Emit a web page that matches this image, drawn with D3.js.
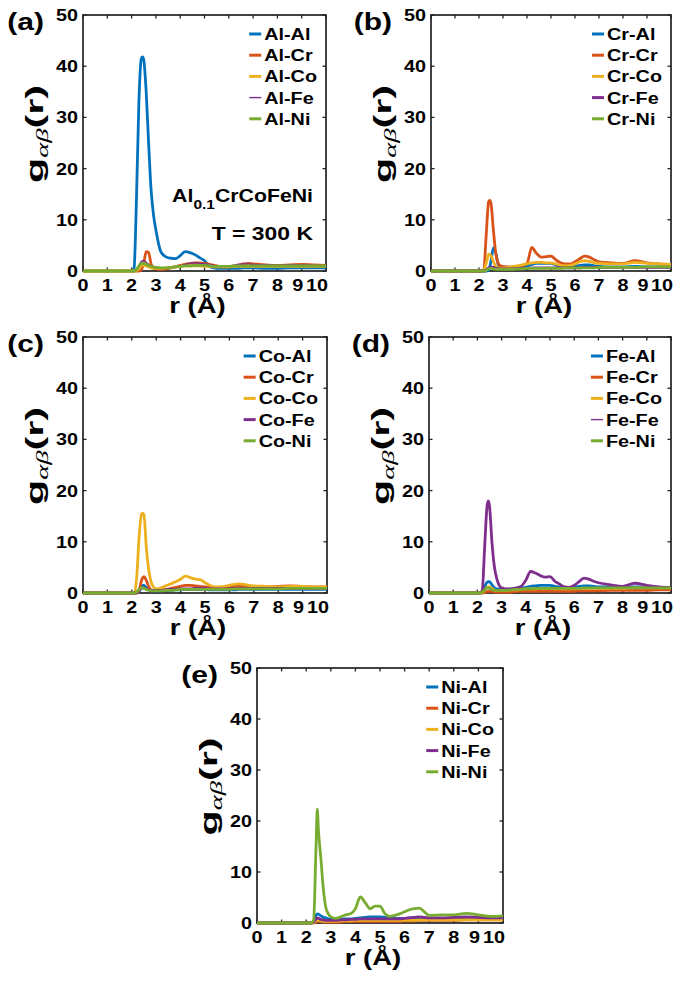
<!DOCTYPE html>
<html><head><meta charset="utf-8">
<script src="https://cdn.jsdelivr.net/npm/d3@7"></script>
<style>
body{margin:0;background:#fff}
text{font-family:"Liberation Sans",Arial,Helvetica,sans-serif;font-weight:bold;fill:#000}
</style>
</head><body>
<svg id="chart" width="685" height="984"></svg>
<script>
// ---------- data ----------
const r = [0,1,2.0,2.1,2.2,2.3,2.4,2.45,2.5,2.6,2.7,2.8,2.9,3.0,3.2,3.4,3.6,3.8,4.0,4.2,4.4,4.6,4.8,5.0,5.2,5.4,5.6,5.8,6.0,6.2,6.4,6.6,6.8,7.0,7.5,8.0,8.5,9.0,9.5,10];
const xTicks = [0,1,2,3,4,5,6,7,8,9,10];
const yTicks = [0,10,20,30,40,50];
const elements = ["Al","Cr","Co","Fe","Ni"];
const colors = ["#0072BD","#D95319","#EDB120","#7E2F8E","#77AC30"];

// panel (a) Al-X
const AlAl = [0,0,0, 0.5,14,33,41.5,41.8,41.2,35,25,16,11, 8,3.8,2.8,2.5,2.4, 3.0,3.8,3.6,3.2,2.6, 2.0,0.9,0.6,0.5,0.5, 0.5,0.5,0.5,0.6,0.6, 0.6,0.5,0.5,0.6,0.6,0.6,0.6];
const AlCr = [0,0,0, 0,0,0,0.2,0.8,1.5,3.8,3.6,1.4,0.6, 0.4,0.3,0.4,0.6,0.8, 1.1,1.3,1.5,1.6,1.6, 1.5,1.3,1.1,0.9,0.8, 0.8,1.0,1.2,1.4,1.5, 1.4,1.2,1.1,1.2,1.3,1.2,1.1];
const AlCo = [0,0,0, 0,0.1,0.5,1.0,1.1,1.2,1.0,0.8,0.6,0.5, 0.5,0.5,0.6,0.7,0.8, 0.9,1.0,1.0,1.0,1.0, 0.9,0.9,0.8,0.8,0.8, 0.8,0.9,0.9,0.9,0.9, 0.9,0.9,0.9,0.9,0.9,0.9,0.9];
const AlFe = [0,0,0, 0,0.2,1.0,1.9,2.0,2.0,1.7,1.3,1.0,0.8, 0.7,0.6,0.6,0.7,0.8, 1.0,1.3,1.5,1.6,1.5, 1.4,1.3,1.1,1.0,1.0, 1.0,1.1,1.3,1.4,1.4, 1.3,1.2,1.1,1.2,1.2,1.1,1.0];
const AlNi = [0,0,0, 0,0.3,1.0,1.5,1.5,1.5,1.3,1.1,0.9,0.8, 0.7,0.6,0.6,0.7,0.8, 0.9,1.0,1.0,1.1,1.1, 1.1,1.0,0.9,0.9,0.9, 0.9,1.0,1.0,1.0,1.0, 1.0,1.0,1.0,1.0,1.0,1.0,1.0];
// panel (b) Cr-X
const CrAl = [0,0,0, 0,0,0,0.1,0.8,2.0,4.5,3.5,1.3,0.6, 0.5,0.5,0.6,0.7,0.8, 1.0,1.3,1.5,1.5,1.5, 1.5,1.2,0.9,0.8,0.8, 0.9,1.1,1.2,1.2,1.0, 0.9,0.8,0.8,0.9,0.8,0.8,0.8];
const CrCr = [0,0,0, 0,0.3,7,13.5,13.8,13.2,8,3.4,1.5,1.0, 0.9,0.8,0.8,0.9,1.1, 1.5,4.6,3.4,2.7,2.8, 2.9,2.2,1.6,1.4,1.4, 1.8,2.4,2.9,2.7,2.2, 1.8,1.6,1.5,2.0,1.6,1.4,1.3];
const CrCo = [0,0,0, 0,0.2,1.5,3.2,3.3,3.0,1.8,0.9,0.6,0.5, 0.6,0.7,0.9,1.0,1.2, 1.4,1.6,1.7,1.7,1.6, 1.6,1.4,1.1,1.0,1.1, 1.4,1.8,2.0,1.9,1.6, 1.5,1.4,1.4,1.7,1.5,1.4,1.3];
const CrFe = [0,0,0, 0,0,0.2,0.6,0.7,0.8,0.7,0.5,0.4,0.4, 0.4,0.4,0.4,0.5,0.5, 0.5,0.6,0.6,0.6,0.6, 0.6,0.6,0.6,0.6,0.6, 0.6,0.6,0.7,0.7,0.7, 0.7,0.7,0.7,0.7,0.7,0.7,0.7];
const CrNi = [0,0,0, 0,0,0.1,0.4,0.5,0.5,0.4,0.3,0.3,0.3, 0.3,0.3,0.3,0.4,0.4, 0.5,0.5,0.5,0.5,0.5, 0.5,0.5,0.5,0.6,0.6, 0.6,0.6,0.6,0.6,0.6, 0.7,0.7,0.7,0.7,0.8,0.8,0.8];
// panel (c) Co-X
const CoAl = [0,0,0, 0,0,0.3,1.3,1.5,1.5,1.0,0.6,0.4,0.4, 0.4,0.4,0.5,0.5,0.6, 0.6,0.7,0.7,0.7,0.7, 0.7,0.6,0.6,0.6,0.6, 0.6,0.6,0.7,0.7,0.7, 0.7,0.7,0.7,0.7,0.7,0.7,0.7];
const CoCr = [0,0,0, 0,0,0.5,2.5,3.0,3.2,2.4,1.2,0.6,0.5, 0.5,0.6,0.7,0.9,1.1, 1.3,1.5,1.5,1.4,1.3, 1.2,1.1,1.0,1.0,1.0, 1.1,1.3,1.3,1.3,1.2, 1.2,1.2,1.3,1.4,1.3,1.2,1.2];
const CoCo = [0,0,0, 0,3,11,15.4,15.6,15.2,8.5,4.3,2.0,1.1, 0.8,1.0,1.4,1.8,2.2, 2.7,3.3,3.0,2.7,2.6, 2.0,1.5,1.2,1.2,1.3, 1.5,1.7,1.8,1.7,1.5, 1.4,1.3,1.2,1.3,1.3,1.2,1.2];
const CoFe = [0,0,0, 0,0.1,0.5,0.9,1.0,1.0,0.8,0.6,0.5,0.5, 0.5,0.5,0.6,0.7,0.7, 0.8,0.8,0.8,0.9,0.9, 0.9,0.8,0.8,0.8,0.8, 0.8,0.9,0.9,0.9,0.9, 0.9,0.9,0.9,0.9,0.9,0.9,0.9];
const CoNi = [0,0,0, 0,0.2,0.7,1.0,1.0,0.9,0.7,0.5,0.4,0.4, 0.4,0.4,0.5,0.5,0.6, 0.7,0.7,0.7,0.7,0.7, 0.7,0.7,0.7,0.7,0.7, 0.7,0.8,0.8,0.8,0.8, 0.8,0.8,0.8,0.9,0.9,0.9,0.9];
// panel (d) Fe-X
const FeAl = [0,0,0, 0,0.2,1.2,2.1,2.2,2.2,1.6,1.0,0.8,0.7, 0.7,0.7,0.8,0.9,1.0, 1.1,1.3,1.4,1.5,1.5, 1.5,1.3,1.1,1.0,1.0, 1.1,1.3,1.4,1.4,1.3, 1.2,1.2,1.2,1.2,1.2,1.1,1.1];
const FeCr = [0,0,0, 0,0,0.1,0.3,0.3,0.3,0.3,0.2,0.2,0.2, 0.2,0.2,0.2,0.3,0.3, 0.3,0.3,0.3,0.3,0.3, 0.3,0.3,0.3,0.3,0.3, 0.3,0.4,0.4,0.4,0.4, 0.4,0.5,0.5,0.5,0.5,0.6,0.6];
const FeCo = [0,0,0, 0,0.1,0.6,1.1,1.2,1.2,0.9,0.6,0.5,0.5, 0.5,0.5,0.6,0.6,0.7, 0.8,0.8,0.8,0.9,0.9, 0.9,0.8,0.8,0.8,0.8, 0.8,0.9,0.9,0.9,0.9, 0.9,0.9,0.9,1.0,1.0,1.0,1.0];
const FeFe = [0,0,0, 0,0.5,9,17,18,17,10,5.2,2.8,1.5, 1.0,0.8,0.8,1.0,1.3, 2.5,4.2,3.9,3.4,3.1, 3.2,2.3,1.7,1.2,1.1, 1.5,2.2,2.9,2.7,2.3, 2.0,1.6,1.3,1.9,1.5,1.2,1.1];
const FeNi = [0,0,0, 0,0.2,0.6,1.0,1.0,0.9,0.7,0.5,0.5,0.5, 0.5,0.5,0.6,0.7,0.7, 0.8,0.8,0.9,0.9,0.9, 0.9,0.9,0.9,0.9,0.9, 0.9,0.9,1.0,1.0,1.0, 1.0,1.0,1.0,1.0,1.0,1.0,1.0];
// panel (e) Ni-X
const NiAl = [0,0,0, 0,0,0.3,1.5,1.8,1.7,1.4,1.1,1.0,0.8, 0.7,0.6,0.7,0.8,0.8, 0.9,1.0,1.1,1.2,1.2, 1.2,1.1,1.0,0.9,0.9, 0.9,1.0,1.0,1.0,1.0, 0.9,0.9,0.9,0.9,0.9,0.9,0.9];
const NiCr = [0,0,0, 0,0,0,0.2,0.3,0.3,0.3,0.2,0.2,0.2, 0.2,0.2,0.2,0.3,0.3, 0.3,0.3,0.3,0.3,0.3, 0.3,0.3,0.3,0.3,0.3, 0.4,0.4,0.4,0.5,0.5, 0.5,0.5,0.5,0.6,0.6,0.6,0.6];
const NiCo = [0,0,0, 0,0,0.1,0.4,0.5,0.5,0.4,0.3,0.3,0.3, 0.3,0.3,0.4,0.4,0.4, 0.5,0.5,0.5,0.5,0.5, 0.5,0.5,0.5,0.5,0.5, 0.5,0.5,0.5,0.6,0.6, 0.6,0.6,0.6,0.6,0.6,0.6,0.6];
const NiFe = [0,0,0, 0,0,0.2,0.8,1.0,0.9,0.7,0.6,0.5,0.5, 0.5,0.5,0.6,0.6,0.7, 0.7,0.8,0.8,0.8,0.8, 0.8,0.8,0.8,0.8,0.8, 0.9,1.0,1.1,1.2,1.1, 1.0,1.0,1.1,1.2,1.1,1.0,1.0];
const NiNi = [0,0,0, 0,0,0.5,15,22.3,18,12.5,6.5,3.0,1.8, 1.2,0.9,1.2,1.6,1.8, 2.8,5.1,4.0,2.8,3.3, 3.3,1.8,1.3,1.5,1.8, 2.2,2.6,2.8,2.9,2.2, 1.5,1.6,1.6,1.9,1.6,1.3,1.4];

const panelLetters = ["a","b","c","d","e"];
const panelCenters = ["Al","Cr","Co","Fe","Ni"];
const panelSeries = [
  [AlAl,AlCr,AlCo,AlFe,AlNi],
  [CrAl,CrCr,CrCo,CrFe,CrNi],
  [CoAl,CoCr,CoCo,CoFe,CoNi],
  [FeAl,FeCr,FeCo,FeFe,FeNi],
  [NiAl,NiCr,NiCo,NiFe,NiNi]
];

// ---------- layout ----------
const boxes = [
  {l:83, t:15, r:326, b:271},
  {l:431, t:15, r:671, b:271},
  {l:83, t:337, r:327, b:593},
  {l:429, t:337, r:671, b:593},
  {l:257, t:668, r:503, b:923}
];
const SX = 1.2;
const thinPlot = {"Al-Fe":1.4};
const thinLegend = {"Al-Fe":1.4, "Fe-Fe":1.4};

const svg = d3.select("#chart");

function txt(g, x, y, s, size, anchor, sx) {
  return g.append("text")
    .attr("transform", `translate(${x},${y}) scale(${sx||SX},1)`)
    .attr("text-anchor", anchor || "start")
    .style("font-size", size + "px")
    .text(s);
}

panelSeries.forEach((series, pi) => {
  const B = boxes[pi];
  const x = d3.scaleLinear().domain([0,10]).range([B.l, B.r]);
  const y = d3.scaleLinear().domain([0,50]).range([B.b, B.t]);
  const g = svg.append("g");

  // ticks (inward, mirrored)
  const tl = 3.5;
  xTicks.forEach(v => {
    g.append("line").attr("x1", x(v)).attr("x2", x(v)).attr("y1", B.b).attr("y2", B.b - tl).attr("stroke","#222").attr("stroke-width",1.3);
    g.append("line").attr("x1", x(v)).attr("x2", x(v)).attr("y1", B.t).attr("y2", B.t + tl).attr("stroke","#222").attr("stroke-width",1.3);
  });
  yTicks.forEach(v => {
    g.append("line").attr("x1", B.l).attr("x2", B.l + tl).attr("y1", y(v)).attr("y2", y(v)).attr("stroke","#222").attr("stroke-width",1.3);
    g.append("line").attr("x1", B.r).attr("x2", B.r - tl).attr("y1", y(v)).attr("y2", y(v)).attr("stroke","#222").attr("stroke-width",1.3);
  });
  // box
  g.append("rect").attr("x", B.l).attr("y", B.t).attr("width", B.r - B.l).attr("height", B.b - B.t)
    .attr("fill","none").attr("stroke","#222").attr("stroke-width",1.7);

  // tick labels
  xTicks.forEach(v => {
    let dx = 0;
    if (v === 9) dx = -4;
    if (v === 10) dx = -9;
    txt(g, x(v) + dx, B.b + 19.5, String(v), 16.5, "middle");
  });
  yTicks.forEach(v => {
    txt(g, B.l - 5, y(v) + 6, String(v), 16.5, "end");
  });

  // axis labels
  txt(g, (B.l + B.r)/2 - 7, B.b + 42, "r (Å)", 22, "middle", 1.25);
  const yl = g.append("text")
    .attr("text-anchor","middle")
    .style("font-size","23px");
  yl.append("tspan").text("g");
  yl.append("tspan").text("αβ").attr("dy", 5)
    .style("font-size","16px").style("font-family","'Liberation Serif','DejaVu Serif',serif")
    .style("font-style","italic").style("font-weight","normal");
  yl.append("tspan").text("(r)").attr("dy", -5);
  const natural = yl.node().getComputedTextLength();
  const ysx = 98 / natural;
  yl.attr("transform", `translate(${B.l - 40},${(B.t + B.b)/2 - 9}) rotate(-90) scale(${ysx},1)`);

  // panel letter
  txt(g, B.l - 39, B.t + 15, `(${panelLetters[pi]})`, 24, "end", 1.25);

  // data lines
  const line = d3.line().x(d => x(d[0])).y(d => y(d[1])).curve(d3.curveMonotoneX);
  series.forEach((vals, si) => {
    const name = `${panelCenters[pi]}-${elements[si]}`;
    g.append("path")
      .attr("d", line(r.map((rv, i) => [rv, vals[i]])))
      .attr("fill","none")
      .attr("stroke", colors[si])
      .attr("stroke-width", thinPlot[name] || 2.8)
      .attr("stroke-linejoin","round");
  });

  // legend
  const names = elements.map(e => `${panelCenters[pi]}-${e}`);
  const widths = names.map(n => {
    const t = txt(g, 0, 0, n, 16.5, "start");
    const w = t.node().getComputedTextLength() * SX;
    t.remove();
    return w;
  });
  const tx = B.r - 9 - d3.max(widths);
  names.forEach((n, i) => {
    const cy = B.t + 19 + i * 21.2;
    g.append("line").attr("x1", tx - 15).attr("x2", tx - 3).attr("y1", cy).attr("y2", cy)
      .attr("stroke", colors[i]).attr("stroke-width", thinLegend[n] || 3);
    txt(g, tx, cy + 6, n, 16.5, "start");
  });

  // annotation for (a)
  if (pi === 0) {
    const a = g.append("text")
      .attr("text-anchor","end")
      .attr("transform", `translate(${B.r - 13},${B.t + 187}) scale(1.15,1)`)
      .style("font-size","18.5px");
    a.append("tspan").text("Al");
    a.append("tspan").text("0.1").attr("dy", 7).style("font-size","13.5px");
    a.append("tspan").text("CrCoFeNi").attr("dy", -7);
    txt(g, B.r - 13, B.t + 225, "T = 300 K", 18.5, "end", 1.24);
  }
});
</script>
</body></html>
